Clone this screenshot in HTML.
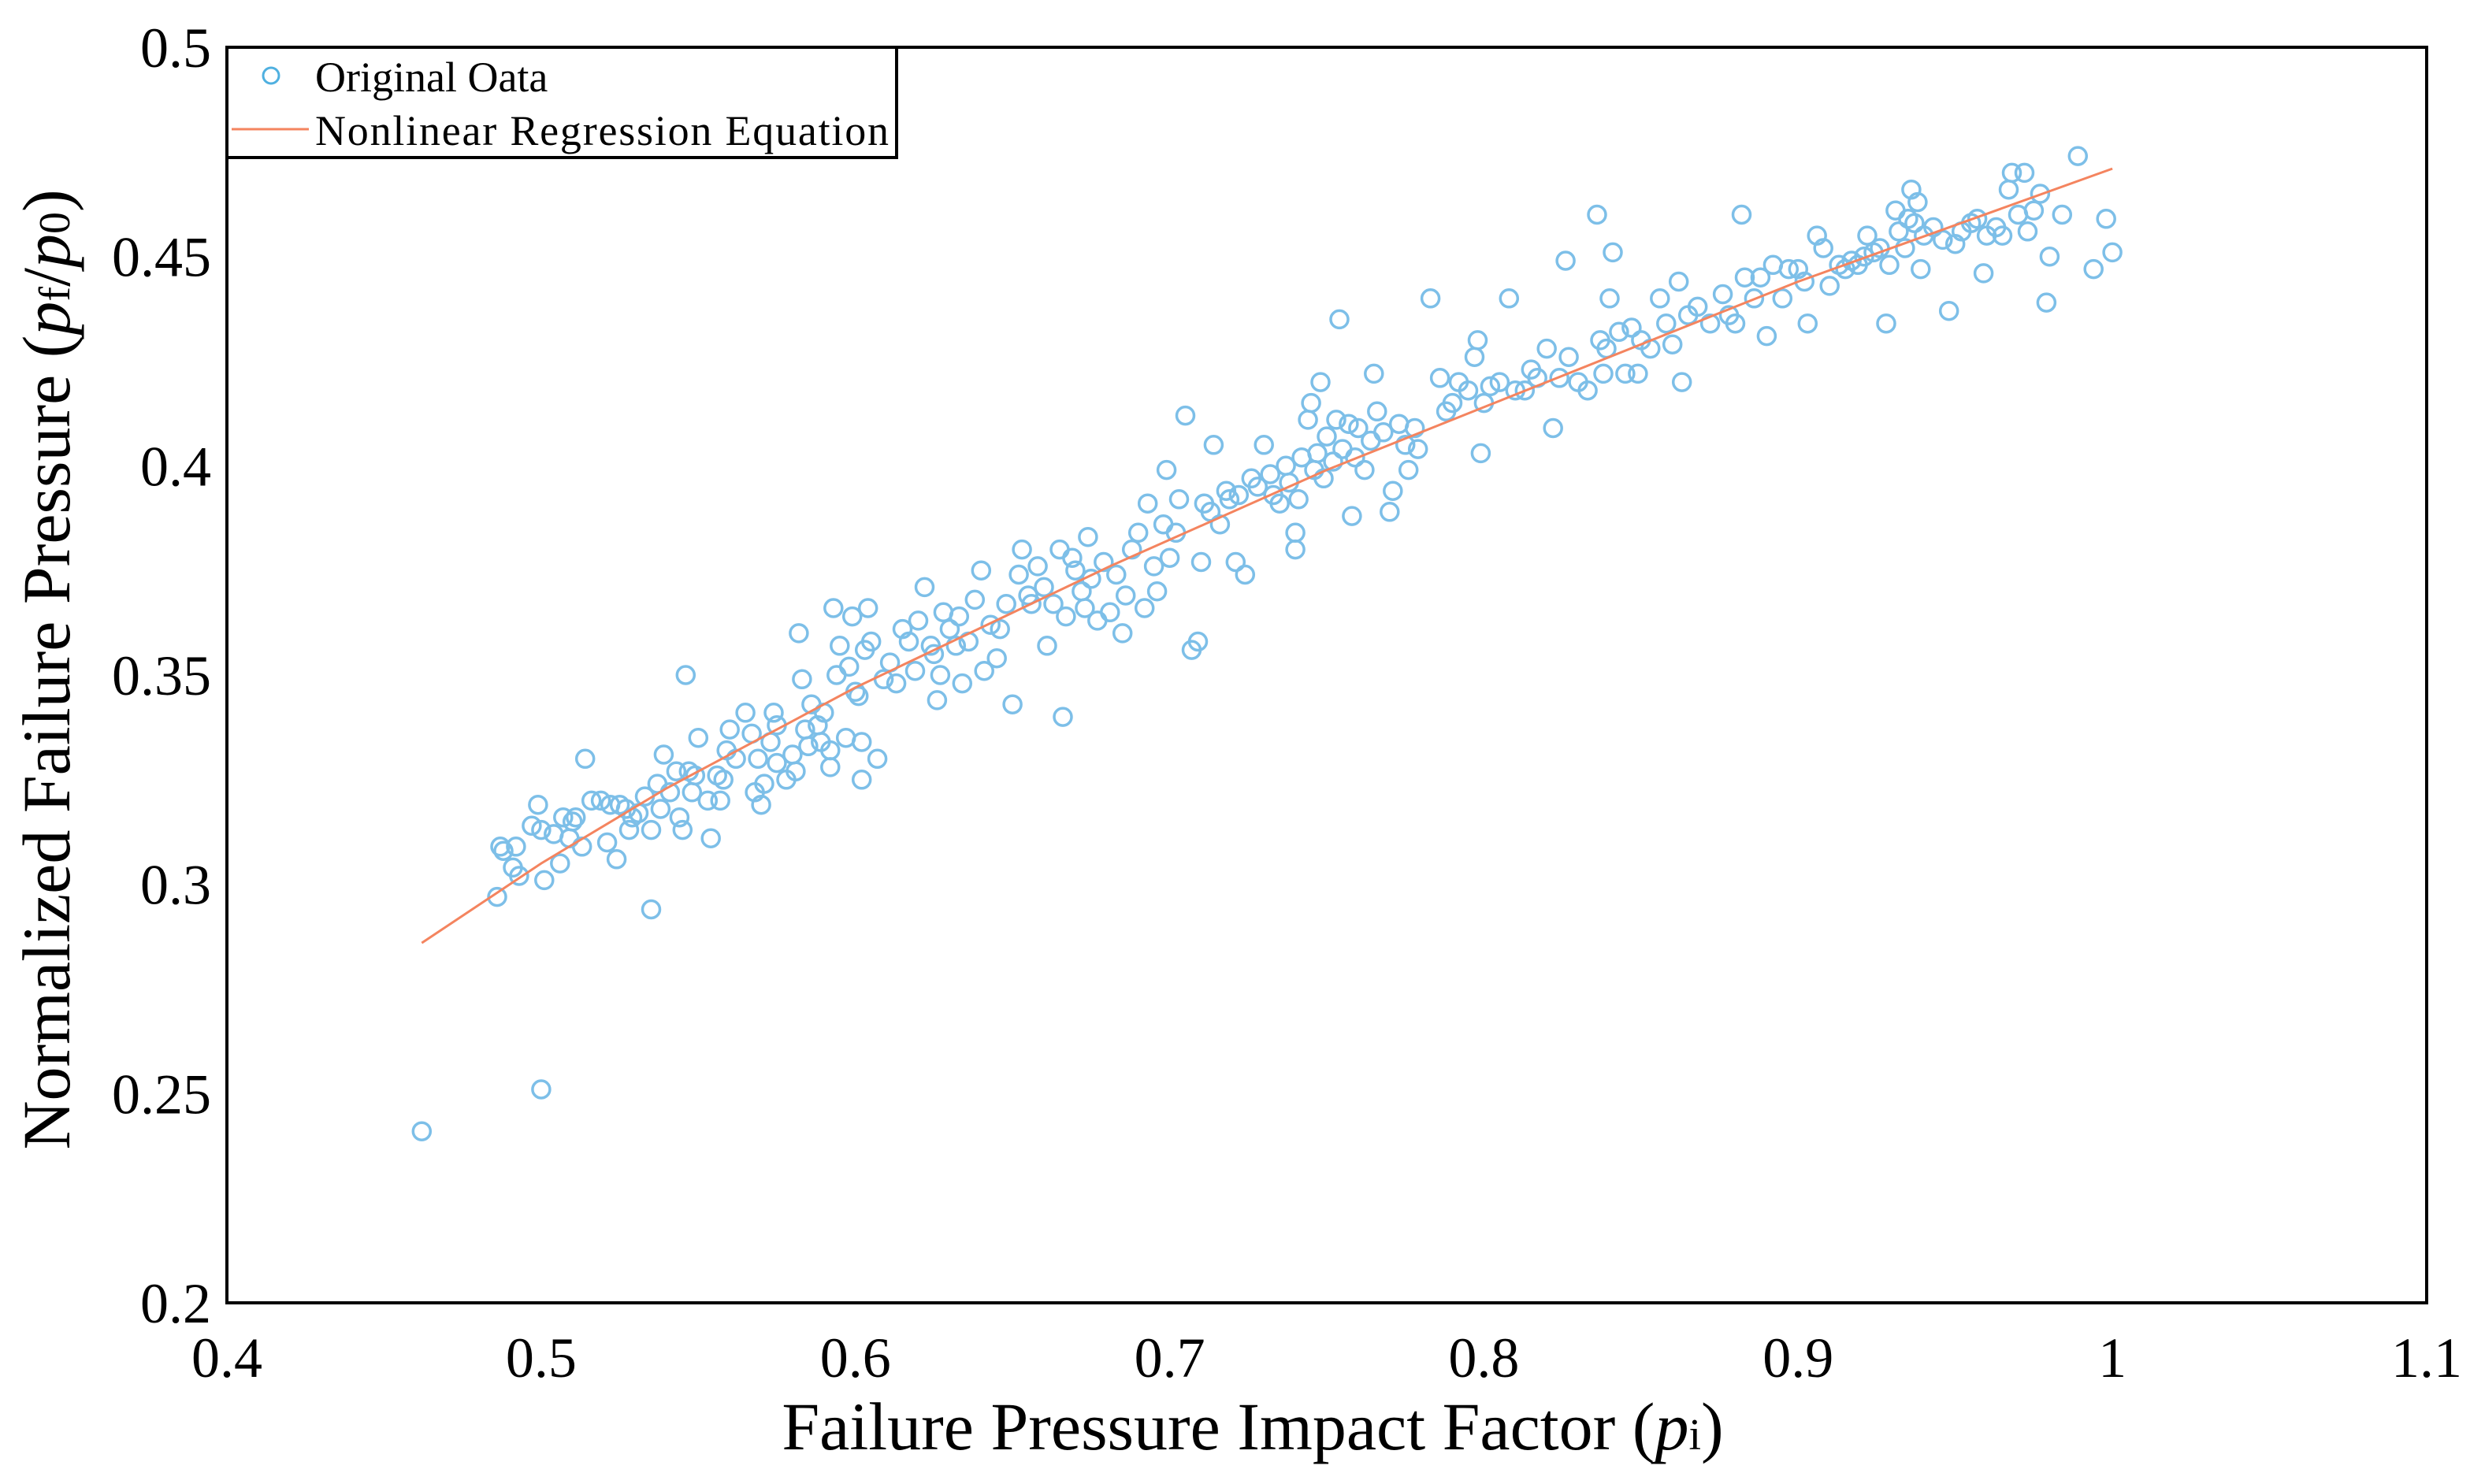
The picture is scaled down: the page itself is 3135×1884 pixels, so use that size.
<!DOCTYPE html>
<html><head><meta charset="utf-8"><style>
html,body{margin:0;padding:0;background:#fff;}
svg{display:block;font-family:"Liberation Serif",serif;}
</style></head><body>
<svg id="chart" width="3135" height="1884" viewBox="0 0 3135 1884" xmlns="http://www.w3.org/2000/svg">
<rect x="0" y="0" width="3135" height="1884" fill="#fff"/>
<g id="marks"></g>
<rect x="288" y="60" width="2792" height="1594" fill="none" stroke="#000" stroke-width="4"/>
<g id="ticks"></g>
<text x="1590" y="1840" font-size="86" text-anchor="middle">Failure Pressure Impact Factor (<tspan font-style="italic">p</tspan><tspan font-size="56">i</tspan>)</text>
<text transform="translate(88,850) rotate(-90)" font-size="86" text-anchor="middle">Normalized Failure Pressure (<tspan font-style="italic">p</tspan><tspan font-size="56">f</tspan>/<tspan font-style="italic">p</tspan><tspan font-size="56">0</tspan>)</text>
<g>
<rect x="288" y="60" width="850" height="140" fill="#fff" stroke="#000" stroke-width="4"/>
<circle cx="344" cy="96" r="10" fill="none" stroke="#4fb0e0" stroke-width="3"/>
<text x="400" y="116" font-size="54">Original Oata</text>
<line x1="294" y1="164" x2="392" y2="164" stroke="#f4845f" stroke-width="3"/>
<text x="400" y="184" font-size="54" textLength="728">Nonlinear Regression Equation</text>
</g>
</svg>
<script>
const xTicks = [0.4,0.5,0.6,0.7,0.8,0.9,1.0,1.1];
const xTickLabels = ["0.4","0.5","0.6","0.7","0.8","0.9","1","1.1"];
const yTicks = [0.2,0.25,0.3,0.35,0.4,0.45,0.5];
const yTickLabels = ["0.2","0.25","0.3","0.35","0.4","0.45","0.5"];
const fitX = [0.462,0.5,0.54,0.6,0.681,0.75,0.8,0.9,1.0];
const fitY = [0.286,0.305,0.323,0.347,0.376,0.399,0.414,0.444,0.471];
const dataX = [0.462,0.500,0.535,0.546,0.666,
0.486,0.487,0.488,0.491,0.492,0.493,0.497,0.499,0.501,0.500,0.504,0.506,0.507,0.509,0.510,0.511,0.513,0.514,0.516,0.519,0.521,0.522,0.524,0.525,0.527,0.528,0.529,
0.531,0.533,0.535,0.537,0.538,0.539,0.541,0.543,0.544,0.545,0.547,0.548,0.549,0.550,0.553,0.554,0.556,0.557,0.558,0.559,0.560,0.562,0.565,
0.567,0.568,0.569,0.570,0.571,0.573,0.574,0.575,0.575,0.578,0.580,0.581,0.582,0.583,0.584,0.585,0.586,0.588,0.589,0.590,0.592,0.592,0.593,0.594,0.595,0.597,0.598,0.599,0.600,0.601,0.602,0.602,0.603,0.604,0.605,0.607,
0.609,0.611,0.613,0.615,0.617,0.619,0.620,0.622,0.624,0.625,0.626,0.627,0.628,0.630,0.632,0.633,0.634,0.636,0.638,0.640,0.641,0.643,0.645,0.646,0.648,0.650,0.652,0.653,0.655,0.656,0.658,0.660,0.661,0.663,0.665,0.667,
0.669,0.670,0.672,0.673,0.674,0.675,0.677,0.679,0.681,0.683,0.685,0.686,0.688,0.690,0.692,0.693,0.695,0.696,0.698,0.699,0.700,0.702,0.703,0.705,0.707,0.709,0.710,0.711,0.713,0.714,0.716,0.718,0.719,0.721,0.722,0.724,
0.726,0.728,0.730,0.732,0.733,0.735,0.737,0.738,0.740,0.740,0.741,0.742,0.744,0.745,0.746,0.747,0.748,0.749,0.750,0.752,0.753,0.754,0.755,0.757,0.758,0.759,0.760,0.762,0.764,0.765,0.766,0.768,0.770,0.771,0.773,0.775,0.776,0.778,0.779,
0.783,0.786,0.788,0.790,0.792,0.795,0.797,0.798,0.799,0.800,0.802,0.805,0.808,0.810,0.813,0.815,0.817,0.820,0.822,0.824,0.826,0.827,0.830,0.833,0.836,0.837,0.838,0.839,0.840,0.841,0.843,0.845,0.847,0.849,0.850,0.853,0.856,0.858,0.860,0.862,0.863,0.865,
0.868,0.872,0.876,0.878,0.880,0.882,0.883,0.886,0.888,0.890,0.892,0.895,0.897,0.900,0.902,0.903,0.906,0.908,0.910,0.913,0.915,0.917,
0.919,0.921,0.922,0.924,0.926,0.928,0.929,0.931,0.932,0.934,0.935,0.936,0.937,0.938,0.939,0.940,0.943,0.946,0.948,0.950,0.952,0.955,0.957,0.959,0.960,0.963,0.965,0.967,0.968,0.970,0.972,0.973,0.975,0.977,0.979,0.980,0.984,0.989,0.994,0.998,1.000];
const dataY = [0.241,0.251,0.294,0.350,0.340,
0.297,0.309,0.308,0.304,0.309,0.302,0.314,0.319,0.301,0.313,0.312,0.305,0.316,0.311,0.315,0.316,0.309,0.330,0.320,0.320,0.310,0.319,0.306,0.319,0.318,0.313,0.316,
0.317,0.321,0.313,0.324,0.318,0.331,0.322,0.327,0.316,0.313,0.327,0.322,0.326,0.335,0.320,0.311,0.326,0.320,0.325,0.332,0.337,0.330,0.341,
0.336,0.322,0.330,0.319,0.324,0.334,0.341,0.338,0.329,0.325,0.331,0.327,0.360,0.349,0.337,0.333,0.343,0.338,0.334,0.341,0.332,0.328,0.366,0.350,0.357,0.335,0.352,0.364,0.346,0.345,0.325,0.334,0.356,0.366,0.358,0.330,
0.349,0.353,0.348,0.361,0.358,0.351,0.363,0.371,0.357,0.355,0.344,0.350,0.365,0.361,0.357,0.364,0.348,0.358,0.368,0.375,0.351,0.362,0.354,0.361,0.367,0.343,0.374,0.380,0.369,0.367,0.376,0.371,0.357,0.367,0.380,0.364,
0.378,0.375,0.370,0.366,0.383,0.373,0.363,0.377,0.365,0.374,0.360,0.369,0.380,0.384,0.366,0.391,0.376,0.370,0.386,0.399,0.378,0.384,0.392,0.412,0.356,0.358,0.377,0.391,0.389,0.405,0.386,0.394,0.392,0.377,0.393,0.374,
0.397,0.395,0.405,0.398,0.393,0.391,0.400,0.396,0.384,0.380,0.392,0.402,0.411,0.415,0.399,0.403,0.420,0.397,0.407,0.401,0.411,0.435,0.404,0.410,0.388,0.402,0.409,0.399,0.406,0.422,0.413,0.408,0.389,0.394,0.410,0.405,0.399,0.409,0.404,
0.440,0.421,0.413,0.415,0.420,0.418,0.426,0.430,0.403,0.415,0.419,0.420,0.440,0.418,0.418,0.423,0.421,0.428,0.409,0.421,0.449,0.426,0.420,0.418,0.460,0.430,0.422,0.428,0.440,0.451,0.432,0.422,0.433,0.422,0.430,0.428,0.440,0.434,0.429,0.444,0.420,0.436,
0.438,0.434,0.441,0.436,0.434,0.460,0.445,0.440,0.445,0.431,0.448,0.440,0.447,0.447,0.444,0.434,0.455,0.452,0.443,0.448,0.447,0.449,
0.448,0.450,0.455,0.451,0.452,0.434,0.448,0.461,0.456,0.452,0.459,0.466,0.458,0.463,0.447,0.455,0.457,0.454,0.437,0.453,0.456,0.458,0.459,0.446,0.455,0.457,0.455,0.466,0.470,0.460,0.470,0.456,0.461,0.465,0.439,0.450,0.460,0.474,0.447,0.459,0.451];

const NS = "http://www.w3.org/2000/svg";
const L = 288, R = 3080, T = 60, B = 1654;
function sx(v){ return L + (v - 0.4) / 0.7 * (R - L); }
function sy(v){ return B - (v - 0.2) / 0.3 * (B - T); }
const marks = document.getElementById('marks');
const ticks = document.getElementById('ticks');

for (let i = 0; i < dataX.length; i++) {
  const c = document.createElementNS(NS, 'circle');
  c.setAttribute('cx', sx(dataX[i]).toFixed(1));
  c.setAttribute('cy', sy(dataY[i]).toFixed(1));
  c.setAttribute('r', 11);
  c.setAttribute('fill', 'none');
  c.setAttribute('stroke', '#7dbfe8');
  c.setAttribute('stroke-width', 3.5);
  
  
  marks.appendChild(c);
}
const pl = document.createElementNS(NS, 'polyline');
pl.setAttribute('points', fitX.map((x, i) => sx(x).toFixed(1) + ',' + sy(fitY[i]).toFixed(1)).join(' '));
pl.setAttribute('fill', 'none');
pl.setAttribute('stroke', '#f4845f');
pl.setAttribute('stroke-width', 3);


marks.appendChild(pl);

xTicks.forEach((v, i) => {
  const t = document.createElementNS(NS, 'text');
  t.setAttribute('x', sx(v));
  t.setAttribute('y', 1748);
  t.setAttribute('font-size', 72);
  t.setAttribute('text-anchor', 'middle');
  t.textContent = xTickLabels[i];
  
  
  ticks.appendChild(t);
});
yTicks.forEach((v, i) => {
  const t = document.createElementNS(NS, 'text');
  t.setAttribute('x', 268);
  t.setAttribute('y', sy(v) + 25);
  t.setAttribute('font-size', 72);
  t.setAttribute('text-anchor', 'end');
  t.textContent = yTickLabels[i];
  
  
  ticks.appendChild(t);
});
</script>
</body></html>
